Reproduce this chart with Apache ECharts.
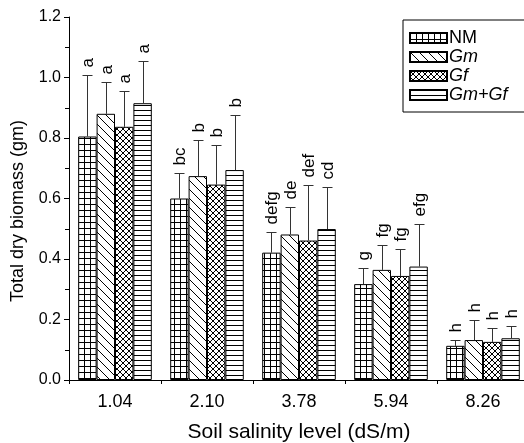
<!DOCTYPE html>
<html>
<head>
<meta charset="utf-8">
<script src="https://cdn.jsdelivr.net/npm/echarts@6/dist/echarts.min.js"></script>
<style>
html, body { margin: 0; padding: 0; background: #fff; }
#chart { width: 524px; height: 443px; }
</style>
</head>
<body>
<div id="chart"></div>
<script>
// salinity levels
var categories = ['1.04', '2.10', '3.78', '5.94', '8.26'];
var seriesNames = ['NM', 'Gm', 'Gf', 'Gm+Gf'];

// mean biomass
var nmVals = [0.805, 0.600, 0.421, 0.317, 0.113];
var gmVals = [0.880, 0.674, 0.481, 0.364, 0.132];
var gfVals = [0.837, 0.646, 0.461, 0.344, 0.126];
var gmgfVals = [0.915, 0.694, 0.499, 0.375, 0.138];

// upper error (sd)
var nmErr = [0.203, 0.083, 0.067, 0.052, 0.019];
var gmErr = [0.106, 0.120, 0.092, 0.081, 0.067];
var gfErr = [0.119, 0.130, 0.182, 0.088, 0.045];
var gmgfErr = [0.140, 0.182, 0.139, 0.140, 0.042];

// significance letters
var nmLet = ['a', 'bc', 'defg', 'g', 'h'];
var gmLet = ['a', 'b', 'de', 'fg', 'h'];
var gfLet = ['a', 'b', 'def', 'fg', 'h'];
var gmgfLet = ['a', 'b', 'cd', 'efg', 'h'];

var yTicks = [0, 0.2, 0.4, 0.6, 0.8, 1.0, 1.2];

var allVals = [nmVals, gmVals, gfVals, gmgfVals];
var allErr = [nmErr, gmErr, gfErr, gmgfErr];
var allLet = [nmLet, gmLet, gfLet, gmgfLet];

function makePattern(kind) {
    var size = kind === 'grid' ? 6 : kind === 'diag' ? 9 : kind === 'cross' ? 6 : 5;
    var cv = document.createElement('canvas');
    cv.width = size;
    cv.height = size;
    var ctx = cv.getContext('2d');
    ctx.fillStyle = '#fff';
    ctx.fillRect(0, 0, size, size);
    ctx.strokeStyle = '#000';
    ctx.lineWidth = 1;
    ctx.beginPath();
    if (kind === 'grid') {
        ctx.moveTo(0.5, 0); ctx.lineTo(0.5, size);
        ctx.moveTo(0, 0.5); ctx.lineTo(size, 0.5);
    } else if (kind === 'diag') {
        ctx.moveTo(-1, -1); ctx.lineTo(size + 1, size + 1);
        ctx.moveTo(-1, size - 1); ctx.lineTo(1, size + 1);
        ctx.moveTo(size - 1, -1); ctx.lineTo(size + 1, 1);
    } else if (kind === 'cross') {
        ctx.moveTo(-1, -1); ctx.lineTo(size + 1, size + 1);
        ctx.moveTo(size + 1, -1); ctx.lineTo(-1, size + 1);
    } else {
        ctx.moveTo(0, 0.5); ctx.lineTo(size, 0.5);
    }
    ctx.stroke();
    return { image: cv, repeat: 'repeat' };
}

var patterns = [makePattern('grid'), makePattern('diag'), makePattern('cross'), makePattern('hline')];

var errData = [];
for (var s = 0; s < 4; s++) {
    for (var c = 0; c < categories.length; c++) {
        errData.push([c, s, allVals[s][c], allVals[s][c] + allErr[s][c]]);
    }
}

function renderErr(params, api) {
    var c = api.value(0), s = api.value(1), v = api.value(2), top = api.value(3);
    var band = api.size([1, 0])[0];
    var bw = band * 0.8 / 4;
    var p0 = api.coord([c, v]);
    var x = Math.round(p0[0] + (s - 1.5) * bw) + 0.5;
    var y0 = p0[1];
    var y1 = Math.round(api.coord([c, top])[1]) + 0.5;
    var lbl = allLet[s][c];
    return {
        type: 'group',
        children: [
            { type: 'line', shape: { x1: x, y1: y0, x2: x, y2: y1 }, style: { stroke: '#333', lineWidth: 1 } },
            { type: 'line', shape: { x1: x - 5, y1: y1, x2: x + 5, y2: y1 }, style: { stroke: '#333', lineWidth: 1 } },
            {
                type: 'text', x: x + 1, y: y1 - 8, rotation: Math.PI / 2,
                style: { text: lbl, align: 'left', verticalAlign: 'middle', fontSize: 17, fontFamily: 'Liberation Sans', fill: '#000' }
            }
        ]
    };
}

var chart = echarts.init(document.getElementById('chart'));

var barSeries = seriesNames.map(function (name, i) {
    return {
        name: name,
        type: 'bar',
        xAxisIndex: 0,
        barGap: '0%',
        barCategoryGap: '20%',
        itemStyle: { color: patterns[i], borderColor: '#000', borderWidth: 1 },
        data: allVals[i]
    };
});

var option = {
    animation: false,
    textStyle: { fontFamily: 'Liberation Sans' },
    grid: { left: 69, right: -5, top: 17, bottom: 63, outerBoundsMode: 'none', containLabel: false },
    legend: {
        data: seriesNames,
        orient: 'vertical',
        left: 403,
        top: 20,
        padding: [9, 40, 8, 6],
        borderColor: '#000',
        borderWidth: 1,
        itemWidth: 37,
        itemHeight: 10,
        itemGap: 1,
        icon: 'rect',
        formatter: function (n) { return n === 'NM' ? n : '{i|' + n + '}'; },
        textStyle: {
            fontSize: 18, color: '#000', padding: [0, 0, 0, -3],
            rich: { i: { fontStyle: 'italic', fontSize: 18, color: '#000' } }
        }
    },
    xAxis: [
        {
            type: 'category',
            data: categories,
            name: 'Soil salinity level (dS/m)',
            nameLocation: 'middle',
            nameGap: 42,
            nameTextStyle: { fontSize: 21, color: '#000' },
            axisLine: { lineStyle: { color: '#000', width: 1 } },
            axisTick: { alignWithLabel: true, length: 7, lineStyle: { color: '#000' } },
            axisLabel: { fontSize: 18, color: '#000', margin: 13 }
        },
        {
            type: 'category',
            data: categories,
            position: 'bottom',
            axisLine: { show: false },
            axisTick: { show: true, length: 4, lineStyle: { color: '#000' } },
            axisLabel: { show: false }
        }
    ],
    yAxis: {
        type: 'value',
        min: yTicks[0],
        max: yTicks[yTicks.length - 1],
        interval: 0.2,
        axisLine: { show: true, lineStyle: { color: '#000', width: 1 } },
        axisTick: { show: true, length: 5, lineStyle: { color: '#000' } },
        minorTick: { show: true, splitNumber: 2, length: 4, lineStyle: { color: '#000' } },
        splitLine: { show: false },
        axisLabel: { fontSize: 16, color: '#000', margin: 8, formatter: function (v) { return v.toFixed(1); } }
    },
    graphic: [
        {
            type: 'text', x: 18, y: 211, rotation: Math.PI / 2,
            style: { text: 'Total dry biomass (gm)', align: 'center', verticalAlign: 'middle', fontSize: 18, fontFamily: 'Liberation Sans', fill: '#000' }
        }
    ],
    series: barSeries.concat([{
        type: 'custom',
        xAxisIndex: 0,
        renderItem: renderErr,
        data: errData,
        z: 5
    }])
};

chart.setOption(option);
</script>
</body>
</html>
